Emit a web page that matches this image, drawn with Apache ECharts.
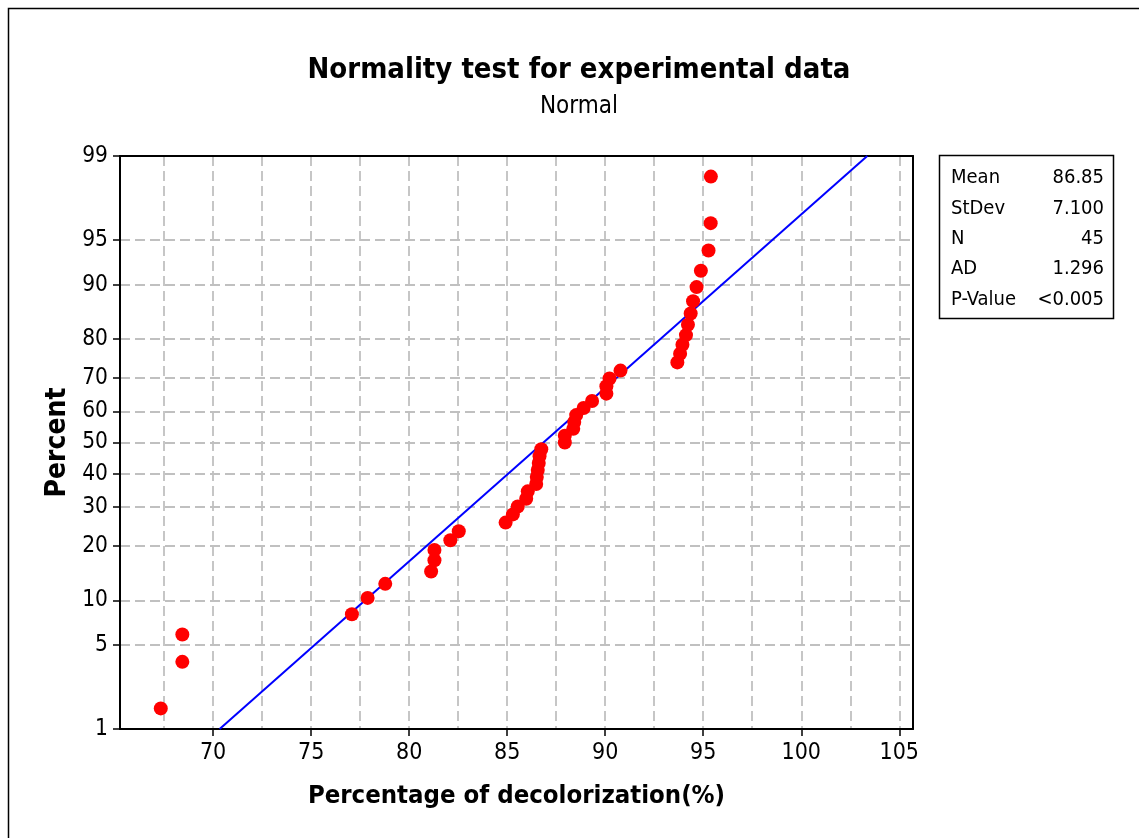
<!DOCTYPE html>
<html><head><meta charset="utf-8">
<script src="https://cdn.jsdelivr.net/npm/echarts@6/dist/echarts.min.js"></script>
<style>html,body{margin:0;padding:0;background:#fff}#c{width:1139px;height:838px}</style>
</head><body><div id="c"></div><script>
// ---- data ----
const decolorization = [67.33, 68.43, 68.43, 77.08, 77.88, 78.78, 81.12, 81.29, 81.29, 82.10, 82.53,
  84.92, 85.29, 85.54, 85.97, 86.05, 86.48, 86.51, 86.56, 86.61, 86.65, 86.74,
  87.94, 87.94, 88.37, 88.42, 88.52, 88.90, 89.33, 90.06, 90.06, 90.22, 90.78,
  93.68, 93.82, 93.94, 94.12, 94.22, 94.36, 94.48, 94.66, 94.88, 95.27, 95.38, 95.39];
const percentTicks = [1, 5, 10, 20, 30, 40, 50, 60, 70, 80, 90, 95, 99];
const percentGrid = [5, 10, 20, 30, 40, 50, 60, 70, 80, 90, 95];
const xTicks = [70, 75, 80, 85, 90, 95, 100, 105];
const xGrid = [67.5, 70, 72.5, 75, 77.5, 80, 82.5, 85, 87.5, 90, 92.5, 95, 97.5, 100, 102.5, 105];
const statLabels = ['Mean', 'StDev', 'N', 'AD', 'P-Value'];
const statValues = ['86.85', '7.100', '45', '1.296', '<0.005'];
const fitMean = 86.85, fitSd = 7.100;
const fitPercents = [1, 99];
const xRange = [65.25, 105.7];

// inverse standard normal CDF (Acklam) -> probability-paper scale
function probit(p) {
  const a = [-3.969683028665376e+01, 2.209460984245205e+02, -2.759285104469687e+02, 1.383577518672690e+02, -3.066479806614716e+01, 2.506628277459239e+00];
  const b = [-5.447609879822406e+01, 1.615858368580409e+02, -1.556989798598866e+02, 6.680131188771972e+01, -1.328068155288572e+01];
  const c = [-7.784894002430293e-03, -3.223964580411365e-01, -2.400758277161838e+00, -2.549732539343734e+00, 4.374664141464968e+00, 2.938163982698783e+00];
  const d = [7.784695709041462e-03, 3.224671290700398e-01, 2.445134137142996e+00, 3.754408661907416e+00];
  const pl = 0.02425, ph = 1 - pl; let q, r;
  if (p < pl) { q = Math.sqrt(-2 * Math.log(p)); return (((((c[0]*q+c[1])*q+c[2])*q+c[3])*q+c[4])*q+c[5]) / ((((d[0]*q+d[1])*q+d[2])*q+d[3])*q+1); }
  if (p <= ph) { q = p - 0.5; r = q*q; return (((((a[0]*r+a[1])*r+a[2])*r+a[3])*r+a[4])*r+a[5])*q / (((((b[0]*r+b[1])*r+b[2])*r+b[3])*r+b[4])*r+1); }
  q = Math.sqrt(-2 * Math.log(1 - p)); return -(((((c[0]*q+c[1])*q+c[2])*q+c[3])*q+c[4])*q+c[5]) / ((((d[0]*q+d[1])*q+d[2])*q+d[3])*q+1);
}
const zOf = p => probit(p / 100);
const n = decolorization.length;
// Minitab median-rank plotting position (i - 0.3) / (n + 0.4)
const points = decolorization.map((x, i) => [x, probit((i + 1 - 0.3) / (n + 0.4))]);
const fitLine = fitPercents.map(p => [fitMean + fitSd * zOf(p), zOf(p)]);
const yMin = zOf(percentTicks[0]), yMax = zOf(percentTicks[percentTicks.length - 1]);
const labelMap = {};
percentTicks.forEach(p => { labelMap[zOf(p).toFixed(6)] = String(p); });

const FONT = "'DejaVu Sans Condensed', 'DejaVu Sans', sans-serif";
const gridDash = { color: '#c0c0c0', width: 1.8, type: [10, 5] };
const chart = echarts.init(document.getElementById('c'), null, { renderer: 'canvas' });
const GL = 120, GT = 156, GR = 913, GB = 729;
const statTexts = [];
statLabels.forEach((s, i) => {
  statTexts.push({ type: 'text', x: 951, y: 178 + i * 30.4, style: { text: s, font: '20px ' + FONT, fill: '#000', textVerticalAlign: 'middle' } });
  statTexts.push({ type: 'text', x: 1104, y: 178 + i * 30.4, style: { text: statValues[i], font: '20px ' + FONT, fill: '#000', textAlign: 'right', textVerticalAlign: 'middle' } });
});
chart.setOption({
  animation: false,
  backgroundColor: '#fff',
  title: {
    text: 'Normality test for experimental data',
    subtext: 'Normal',
    left: 574, top: 51, textAlign: 'center', itemGap: 10,
    textStyle: { fontFamily: FONT, fontWeight: 'bold', fontSize: 29, color: '#000' },
    subtextStyle: { fontFamily: FONT, fontSize: 24, color: '#000' }
  },
  grid: { left: GL, top: GT, width: GR - GL, height: GB - GT, containLabel: false },
  xAxis: [{
    type: 'value', min: xRange[0], max: xRange[1], position: 'bottom',
    name: 'Percentage of decolorization(%)', nameLocation: 'middle', nameGap: 54,
    nameTextStyle: { fontFamily: FONT, fontWeight: 'bold', fontSize: 25.5, color: '#000' },
    axisLine: { show: true, onZero: false, lineStyle: { color: '#000', width: 2 } },
    axisTick: { show: true, length: 7, inside: false, customValues: xTicks, lineStyle: { color: '#000', width: 1.5 } },
    axisLabel: { customValues: xTicks, margin: 13, fontFamily: FONT, fontSize: 23, color: '#000', formatter: v => String(Math.round(v)) },
    splitLine: { show: false }
  }, {
    type: 'value', min: xRange[0], max: xRange[1], position: 'top',
    axisLine: { show: true, onZero: false, lineStyle: { color: '#000', width: 2 } },
    axisTick: { show: false, customValues: xGrid },
    axisLabel: { show: false, customValues: xGrid },
    splitLine: { show: true, lineStyle: gridDash }
  }],
  yAxis: [{
    type: 'value', min: yMin, max: yMax, position: 'left',
    name: 'Percent', nameLocation: 'middle', nameGap: 48, nameRotate: 90,
    nameTextStyle: { fontFamily: FONT, fontWeight: 'bold', fontSize: 28, color: '#000' },
    axisLine: { show: true, onZero: false, lineStyle: { color: '#000', width: 2 } },
    axisTick: { show: true, length: 7, customValues: percentTicks.map(zOf), lineStyle: { color: '#000', width: 1.5 } },
    axisLabel: { customValues: percentTicks.map(zOf), margin: 12, fontFamily: FONT, fontSize: 22.5, color: '#000',
      formatter: v => labelMap[Number(v).toFixed(6)] || '' },
    splitLine: { show: false }
  }, {
    type: 'value', min: yMin, max: yMax, position: 'right',
    axisLine: { show: true, onZero: false, lineStyle: { color: '#000', width: 2 } },
    axisTick: { show: false, customValues: percentGrid.map(zOf) },
    axisLabel: { show: false, customValues: percentGrid.map(zOf) },
    splitLine: { show: true, lineStyle: gridDash }
  }],
  series: [{
    type: 'line', data: fitLine, xAxisIndex: 0, yAxisIndex: 0, showSymbol: false, symbol: 'none',
    lineStyle: { color: '#0000ff', width: 2 }, z: 3, silent: true
  }, {
    type: 'scatter', data: points, xAxisIndex: 0, yAxisIndex: 0, symbol: 'circle', symbolSize: 14,
    itemStyle: { color: '#ff0000', opacity: 1 }, z: 4, silent: true
  }],
  graphic: [
    { type: 'rect', shape: { x: 8.5, y: 8.5, width: 1200, height: 900 }, style: { fill: 'none', stroke: '#000', lineWidth: 1.5 }, silent: true },
    { type: 'rect', shape: { x: 939.5, y: 155.5, width: 174, height: 163 }, style: { fill: '#fff', stroke: '#000', lineWidth: 1.5 }, silent: true }
  ].concat(statTexts)
});
</script></body></html>
